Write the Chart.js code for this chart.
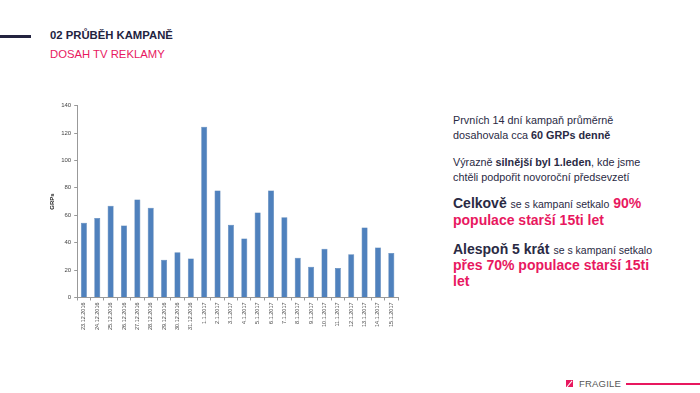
<!DOCTYPE html>
<html>
<head>
<meta charset="utf-8">
<script src="https://cdn.jsdelivr.net/npm/chart.js@4/dist/chart.umd.min.js"></script>
<style>
  body { margin: 0; width: 700px; height: 393px; background: #fff; overflow: hidden;
         font-family: "Liberation Sans", Arial, sans-serif; position: relative; }
  .bar { position: absolute; left: 0; top: 35px; width: 31px; height: 3px; background: #23233f; }
  .h1 { position: absolute; left: 50px; top: 29px; font-size: 11.3px; font-weight: bold; color: #23233f; }
  .h2 { position: absolute; left: 50px; top: 48px; font-size: 11.3px; color: #e8185f; }
  #wrap { position: absolute; left: 47px; top: 99px; width: 363px; height: 233px; }
  .txt { position: absolute; left: 453px; color: #2a2a44; white-space: nowrap; }
  .small { font-size: 10.8px; line-height: 14.5px; }
  .big { font-size: 14px; line-height: 16px; font-weight: bold; }
  .big span.n { font-weight: normal; font-size: 10.5px; }
  .pink { color: #e8185f; }
  .logo { position: absolute; left: 566px; top: 380px; width: 7px; height: 7px; background: #e8185f; overflow: hidden; }
  .logo:after { content: ""; position: absolute; left: 3px; top: 0px; width: 1px; height: 8px;
                background: #fff; transform: rotate(40deg); }
  .brand { position: absolute; left: 579px; top: 378px; font-size: 9.5px; color: #555; letter-spacing: 0.2px; }
  .line2 { position: absolute; left: 626px; top: 383px; width: 74px; height: 2px; background: #e8185f; }
</style>
</head>
<body>
<div class="bar"></div>
<div class="h1">02 PRŮBĚH KAMPANĚ</div>
<div class="h2">DOSAH TV REKLAMY</div>
<div id="wrap"><canvas id="c"></canvas></div>

<div class="txt small" style="top:113px">Prvních 14 dní kampaň průměrně<br>dosahovala cca <b>60 GRPs denně</b></div>
<div class="txt small" style="top:155px">Výrazně <b>silnější byl 1.leden</b>, kde jsme<br>chtěli podpořit novoroční předsevzetí</div>
<div class="txt big" style="top:195px">Celkově <span class="n">se s kampaní setkalo</span> <span class="pink">90%</span></div>
<div class="txt big pink" style="top:212px">populace starší 15ti let</div>
<div class="txt big" style="top:241px">Alespoň 5 krát <span class="n">se s kampaní setkalo</span></div>
<div class="txt big pink" style="top:257px">přes 70% populace starší 15ti<br>let</div>

<div class="logo"></div>
<div class="brand">FRAGILE</div>
<div class="line2"></div>

<script>
const days = ["23.12.2016","24.12.2016","25.12.2016","26.12.2016","27.12.2016","28.12.2016","29.12.2016","30.12.2016","31.12.2016",
  "1.1.2017","2.1.2017","3.1.2017","4.1.2017","5.1.2017","6.1.2017","7.1.2017","8.1.2017","9.1.2017","10.1.2017",
  "11.1.2017","12.1.2017","13.1.2017","14.1.2017","15.1.2017"];
const grps = [54.5, 58, 67, 52.5, 71.5, 65.5, 27.5, 33, 28.5,
  124.5, 78, 53, 43, 62, 78, 58.5, 29, 22.5, 35.5, 21.5, 31.5, 51, 36.5, 32.5];
const yTicks = [0, 20, 40, 60, 80, 100, 120, 140];

new Chart(document.getElementById("c"), {
  type: "bar",
  data: {
    labels: days,
    datasets: [{
      label: "GRPs",
      data: grps,
      backgroundColor: "#4f81bd",
      borderColor: "#3f6fa8",
      borderWidth: 0.5,
      barPercentage: 0.45,
      categoryPercentage: 1
    }]
  },
  options: {
    responsive: true,
    maintainAspectRatio: false,
    animation: false,
    layout: { padding: { top: 5, right: 12, left: 0, bottom: 0 } },
    plugins: { legend: { display: false }, tooltip: { enabled: false } },
    scales: {
      x: {
        grid: { display: true, drawOnChartArea: false, offset: true, tickLength: 3, color: "#999" },
        border: { color: "#999" },
        ticks: { maxRotation: 90, minRotation: 90, autoSkip: false, color: "#444",
                 font: { size: 5.5, family: "Liberation Sans" }, padding: 2 }
      },
      y: {
        min: 0, max: 140,
        afterBuildTicks: ax => { ax.ticks = yTicks.map(v => ({ value: v })); },
        grid: { display: true, drawOnChartArea: false, tickLength: 3, color: "#999" },
        border: { color: "#999" },
        ticks: { color: "#444", font: { size: 6, family: "Liberation Sans" }, padding: 3 },
        title: { display: true, text: "GRPs", color: "#222", padding: 2,
                 font: { size: 6, weight: "bold", family: "Liberation Sans" } }
      }
    }
  }
});
</script>
</body>
</html>
